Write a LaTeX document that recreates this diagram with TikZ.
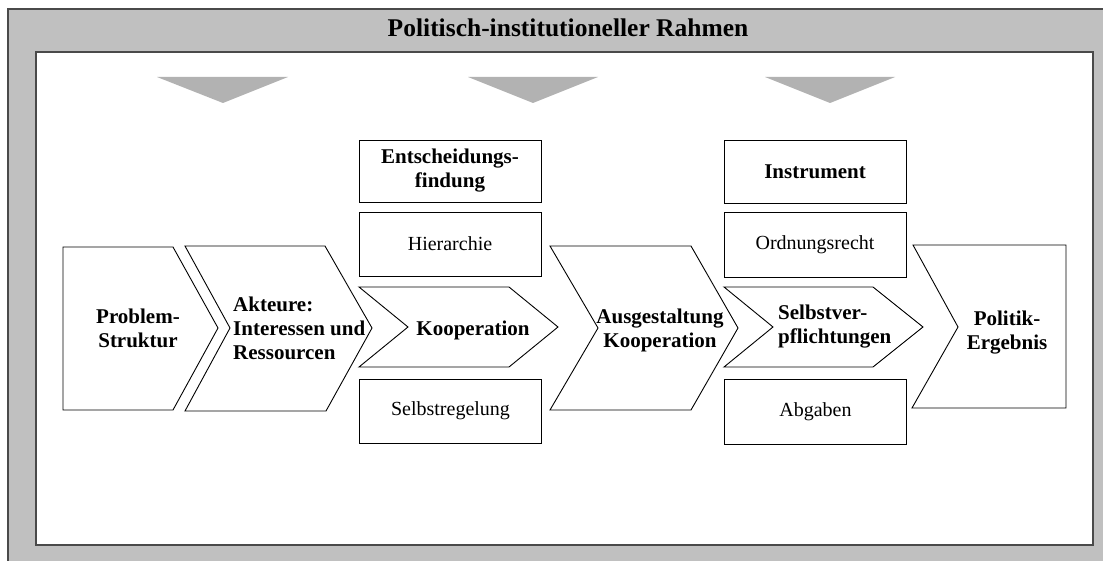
\documentclass[tikz,border=0pt]{standalone}
\usepackage{fontspec}
\setmainfont{Liberation Serif}

\definecolor{rahmengrau}{HTML}{C0C0C0}
\definecolor{pfeilgrau}{HTML}{B2B2B2}
\definecolor{randgrau}{HTML}{4A4A4A}

\begin{document}
\begin{tikzpicture}[x=1pt,y=-1pt,
  kasten/.style={draw,line width=0.9pt,minimum width=182pt,minimum height=64pt,inner sep=0pt,align=center},
  fett/.style={font=\bfseries\fontsize{21}{24}\selectfont,inner sep=0pt},
  normal/.style={font=\fontsize{20}{23}\selectfont},
  pfeil/.style={draw,line width=0.9pt,line join=miter,fill=white}]
  \useasboundingbox (0,0) rectangle (1103,561);

  % Rahmen
  \fill[rahmengrau] (8,9) rectangle (1103,561);
  \draw[randgrau,line width=1.4pt] (8,561) -- (8,9) -- (1103,9);
  \draw[randgrau,line width=1.4pt,fill=white] (36,52) rectangle (1093,545);
  \node[fett,font=\bfseries\fontsize{25.5}{30}\selectfont,anchor=base] (titel) at (568,37) {Politisch-institutioneller Rahmen};

  % Einfluss von oben
  \fill[pfeilgrau] (157,77) -- (288,77) -- (223,103) -- cycle;
  \fill[pfeilgrau] (468,77) -- (598,77) -- (533,103) -- cycle;
  \fill[pfeilgrau] (765,77) -- (895,77) -- (830,103) -- cycle;

  % Kette
  \draw[pfeil] (63,247) -- (173,247) -- (218,328) -- (173,410) -- (63,410) -- cycle;
  \node[fett,align=center] (problem) at (138,328) {Problem-\\Struktur};

  \draw[pfeil] (185,246) -- (325,246) -- (372,328) -- (326,411) -- (185,411) -- (230,328) -- cycle;
  \node[fett,align=left,anchor=west] (akteure) at (233,328) {Akteure:\\Interessen und\\Ressourcen};

  \draw[pfeil] (359,287) -- (509,287) -- (558,327) -- (509,367) -- (359,367) -- (408,327) -- cycle;
  \node[fett,anchor=base] (koop) at (473,335) {Kooperation};

  \draw[pfeil] (550,246) -- (691,246) -- (738,328) -- (691,410) -- (550,410) -- (598,328) -- cycle;
  \node[fett,align=center] (ausg) at (660,330) {Ausgestaltung\\Kooperation};

  \draw[pfeil] (724,287) -- (873,287) -- (923,327) -- (873,367) -- (724,367) -- (773,327) -- cycle;
  \node[fett,align=left,anchor=west] (selbst) at (778,327) {Selbstver-\\pflichtungen};

  \draw[pfeil] (913,245) -- (1066,245) -- (1066,408) -- (912,408) -- (958,327) -- cycle;
  \node[fett,align=center] (ergebnis) at (1007,333) {Politik-\\Ergebnis};

  % Entscheidungsfindung
  \node[kasten,fett,minimum height=62pt] (entsch) at (450,171) {Entscheidungs-\\findung};
  \node[kasten,normal] (hier) at (450,244) {Hierarchie};
  \node[kasten,normal] (selbstreg) at (450.5,411) {Selbstregelung};

  % Instrument
  \node[kasten,fett,minimum height=63pt] (instr) at (815,171.5) {Instrument};
  \node[kasten,normal,minimum height=65pt] (ordn) at (815,244.5) {Ordnungsrecht};
  \node[kasten,normal,minimum height=65pt] (abg) at (815.5,411.5) {Abgaben};
\end{tikzpicture}
\end{document}
